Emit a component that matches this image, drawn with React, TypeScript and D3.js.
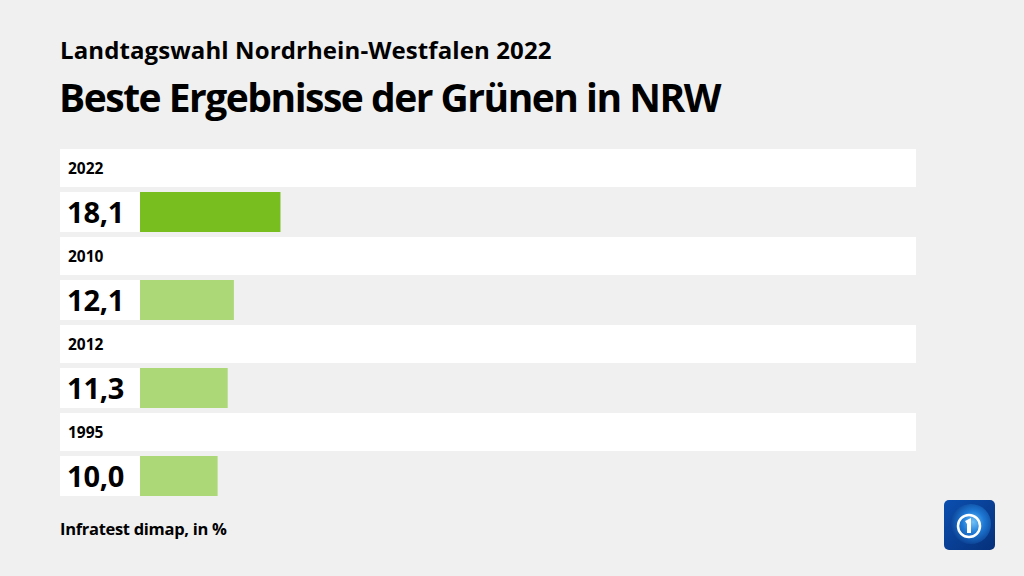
import React from "react";
import * as d3 from "d3";

const years = ["2022", "2010", "2012", "1995"];
const values = [18.1, 12.1, 11.3, 10.0];
const highlight = [true, false, false, false];

const W = 1024;
const H = 576;
const FONT = "'Open Sans', 'DejaVu Sans', sans-serif";

export default function App() {
  const x = d3.scaleLinear().domain([0, 100]).range([140, 916]);
  const y = d3
    .scaleBand<number>()
    .domain(d3.range(years.length))
    .range([148, 148 + 88 * years.length])
    .paddingInner(0)
    .paddingOuter(0);
  const fmt = (v: number) => d3.format(".1f")(v).replace(".", ",");

  return (
    <svg
      width={W}
      height={H}
      style={{ position: "absolute", left: 0, top: 0, background: "#f0f0f0" }}
      fontFamily={FONT}
    >
      <defs>
        <radialGradient id="globe" cx="55%" cy="45%" r="60%">
          <stop offset="0%" stopColor="#6fc2f5" />
          <stop offset="45%" stopColor="#1e7ad6" />
          <stop offset="100%" stopColor="#0a3d8f" />
        </radialGradient>
        <linearGradient id="tile" x1="0" y1="0" x2="1" y2="1">
          <stop offset="0%" stopColor="#0b4fb0" />
          <stop offset="100%" stopColor="#06307a" />
        </linearGradient>
      </defs>
      <rect x={0} y={0} width={W} height={H} fill="#f0f0f0" />
      <text x={60} y={59} fontSize={24} fontWeight={700} fill="#000" letterSpacing={0.1}>
        Landtagswahl Nordrhein-Westfalen 2022
      </text>
      <text x={59} y={112} fontSize={39} fontWeight={700} fill="#000" letterSpacing={-1.5}>
        Beste Ergebnisse der Grünen in NRW
      </text>

      {years.map((yr, i) => {
        const top = y(i)!;
        return (
          <g key={yr}>
            <rect x={60} y={top + 1} width={856} height={38} fill="#ffffff" />
            <text x={68} y={top + 26} fontSize={15.5} fontWeight={700} fill="#000">
              {yr}
            </text>
            <rect x={60} y={top + 44} width={80} height={40} fill="#ffffff" />
            <rect
              x={x(0)}
              y={top + 44}
              width={x(values[i]) - x(0)}
              height={40}
              fill={highlight[i] ? "#78be1e" : "#add878"}
            />
            <text x={67} y={top + 75} fontSize={29} fontWeight={700} fill="#000" letterSpacing={-0.2}>
              {fmt(values[i])}
            </text>
          </g>
        );
      })}

      <text x={60} y={535} fontSize={16.5} fontWeight={700} fill="#000" letterSpacing={-0.3}>
        Infratest dimap, in %
      </text>

      <g transform="translate(944,500)">
        <rect x={0} y={0} width={51} height={50} rx={5} fill="url(#tile)" />
        <circle cx={27} cy={24} r={20} fill="url(#globe)" />
        <circle cx={25} cy={26} r={11} fill="none" stroke="#fff" strokeWidth={2.5} />
        <path d="M21,21 L27,18 L27,33 L23,33 L23,24 Z" fill="#fff" />
      </g>
    </svg>
  );
}
